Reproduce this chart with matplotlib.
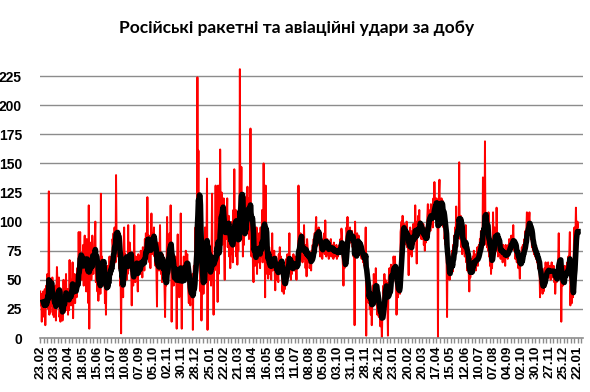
import numpy as np
import pandas as pd
import matplotlib
matplotlib.use("Agg")
import matplotlib.pyplot as plt
from matplotlib.ticker import MultipleLocator, FixedLocator

# daily strikes, starting 23.02.2023 (28 days per row pair)
strikes = [
    40, 28, 38, 14, 35, 22, 40, 30, 18, 42, 11, 33, 45, 28,
    55, 38, 25, 126, 20, 48, 22, 50, 35, 28, 52, 20, 40, 18,
    30, 22, 45, 15, 38, 61, 48, 42, 30, 52, 18, 25, 14, 30,
    20, 35, 15, 28, 50, 33, 22, 45, 38, 55, 24, 30, 42, 20,
    35, 24, 67, 30, 45, 28, 50, 40, 65, 17, 48, 38, 55, 30,
    52, 42, 35, 60, 48, 55, 91, 62, 70, 91, 58, 72, 50, 68,
    60, 80, 45, 75, 88, 55, 70, 40, 85, 62, 58, 30, 114, 8,
    75, 68, 82, 50, 60, 88, 72, 55, 70, 62, 85, 100, 48, 66,
    58, 40, 55, 32, 48, 42, 60, 38, 124, 55, 70, 48, 65, 52,
    45, 60, 30, 50, 20, 55, 42, 62, 50, 58, 48, 70, 55, 62,
    60, 70, 55, 85, 78, 90, 72, 95, 80, 65, 140, 88, 75, 92,
    70, 85, 60, 90, 45, 55, 4, 62, 48, 70, 35, 80, 95, 68,
    72, 58, 65, 50, 62, 55, 97, 60, 70, 82, 75, 58, 62, 28,
    65, 50, 45, 60, 97, 52, 48, 70, 58, 65, 55, 40, 72, 60,
    62, 70, 55, 75, 60, 68, 52, 78, 65, 70, 58, 85, 72, 90,
    75, 68, 121, 82, 70, 88, 65, 78, 60, 85, 107, 72, 90, 78,
    85, 95, 70, 80, 62, 75, 55, 27, 82, 60, 70, 58, 75, 97,
    62, 55, 68, 48, 72, 60, 50, 65, 40, 18, 55, 45, 62, 104,
    70, 58, 85, 62, 90, 75, 114, 80, 14, 65, 50, 72, 45, 60,
    55, 70, 48, 62, 8, 65, 89, 40, 58, 35, 50, 42, 107, 45,
    8, 55, 62, 48, 70, 58, 65, 52, 75, 60, 68, 72, 55, 40,
    30, 45, 35, 28, 50, 42, 38, 55, 7, 48, 62, 45, 70, 95,
    80, 65, 95, 224, 110, 161, 85, 120, 60, 40, 75, 15, 55, 48,
    62, 38, 70, 55, 95, 80, 60, 88, 137, 7, 85, 60, 72, 50,
    55, 68, 45, 72, 124, 50, 65, 20, 70, 58, 80, 131, 62, 75,
    68, 31, 131, 55, 90, 85, 162, 110, 95, 125, 80, 115, 100, 120,
    75, 50, 95, 110, 85, 100, 120, 78, 92, 105, 70, 88, 60, 95,
    80, 72, 100, 65, 110, 90, 145, 95, 85, 110, 70, 100, 63, 88,
    75, 110, 90, 231, 95, 105, 147, 85, 110, 70, 95, 80, 100, 88,
    121, 95, 115, 105, 130, 90, 120, 85, 100, 95, 180, 80, 70, 110,
    85, 60, 48, 75, 90, 62, 80, 70, 95, 55, 85, 78, 65, 90,
    72, 60, 95, 70, 80, 110, 65, 95, 150, 100, 85, 35, 131, 60,
    75, 55, 70, 51, 65, 78, 55, 62, 70, 50, 68, 90, 58, 72,
    60, 75, 55, 41, 70, 62, 50, 65, 58, 48, 72, 60, 78, 65,
    70, 55, 62, 40, 45, 52, 38, 50, 42, 60, 55, 68, 58, 72,
    65, 55, 70, 90, 58, 62, 50, 68, 55, 65, 60, 72, 58, 62,
    58, 70, 62, 50, 68, 72, 60, 131, 85, 70, 78, 90, 75, 82,
    70, 65, 80, 72, 97, 68, 75, 60, 80, 53, 85, 78, 70, 65,
    72, 60, 65, 70, 58, 75, 68, 80, 72, 85, 78, 90, 82, 95,
    104, 85, 92, 80, 88, 95, 82, 78, 70, 85, 72, 80, 68, 78,
    85, 75, 90, 72, 101, 80, 70, 78, 85, 72, 80, 68, 82, 75,
    78, 85, 70, 80, 72, 76, 68, 82, 75, 70, 78, 72, 80, 68,
    75, 70, 78, 72, 80, 75, 85, 78, 94, 88, 70, 62, 45, 68,
    60, 72, 65, 80, 95, 90, 104, 85, 92, 80, 88, 95, 82, 90,
    85, 92, 78, 88, 70, 82, 11, 100, 75, 85, 70, 90, 78, 85,
    88, 80, 75, 72, 80, 70, 68, 75, 72, 65, 70, 62, 72, 60,
    95, 2, 50, 40, 35, 48, 30, 42, 25, 35, 20, 38, 11, 30,
    45, 28, 55, 40, 50, 35, 60, 42, 30, 20, 35, 25, 18, 30,
    22, 10, 25, 15, 0, 20, 30, 45, 38, 55, 42, 50, 35, 48,
    40, 30, 2, 45, 55, 60, 40, 50, 63, 58, 45, 62, 55, 70,
    65, 58, 70, 50, 45, 20, 40, 55, 35, 50, 45, 40, 38, 91,
    95, 100, 88, 105, 92, 85, 98, 80, 90, 95, 85, 100, 78, 90,
    75, 54, 85, 72, 95, 80, 88, 70, 92, 85, 98, 80, 90, 85,
    114, 95, 85, 64, 100, 92, 105, 95, 110, 88, 100, 92, 85, 95,
    90, 85, 98, 80, 92, 75, 88, 82, 95, 88, 105, 115, 95, 110,
    100, 108, 92, 115, 98, 105, 110, 95, 120, 105, 134, 110, 118, 105,
    120, 108, 115, 0, 110, 125, 136, 100, 115, 105, 120, 110, 118, 100,
    95, 110, 85, 92, 80, 95, 70, 18, 75, 60, 55, 68, 50, 62,
    58, 70, 62, 75, 57, 80, 72, 88, 78, 95, 85, 113, 80, 90,
    100, 88, 95, 151, 92, 85, 105, 78, 85, 72, 88, 80, 75, 85,
    70, 80, 97, 65, 72, 58, 70, 62, 55, 40, 60, 52, 68, 58,
    65, 55, 70, 62, 75, 60, 68, 72, 58, 70, 65, 78, 62, 75,
    80, 70, 85, 75, 92, 80, 88, 78, 138, 85, 95, 80, 169, 90,
    85, 92, 78, 88, 75, 108, 70, 80, 62, 72, 55, 68, 60, 75,
    108, 85, 78, 95, 80, 90, 75, 112, 88, 80, 70, 85, 72, 78,
    75, 68, 82, 70, 78, 65, 80, 72, 68, 75, 62, 80, 70, 72,
    75, 68, 80, 72, 85, 78, 82, 75, 88, 80, 78, 85, 97, 80,
    75, 82, 68, 78, 72, 65, 80, 70, 60, 68, 62, 51, 70, 65,
    72, 78, 65, 80, 75, 70, 85, 78, 92, 85, 95, 108, 88, 98,
    90, 102, 108, 95, 92, 85, 88, 78, 82, 75, 80, 72, 78, 70,
    75, 68, 72, 65, 70, 60, 68, 62, 58, 35, 55, 48, 42, 50,
    38, 45, 40, 52, 60, 48, 65, 55, 62, 50, 58, 65, 52, 60,
    55, 62, 50, 58, 65, 52, 60, 55, 62, 48, 58, 38, 50, 55,
    48, 58, 62, 70, 90, 65, 68, 55, 60, 14, 50, 62, 45, 55,
    58, 50, 62, 55, 48, 60, 55, 65, 58, 70, 62, 75, 91, 28,
    45, 38, 30, 42, 35, 55, 80, 95, 70, 88, 112, 90, 85, 100,
    95,
]
start_date = "2023-02-23"
title = "Російські ракетні та авіаційні удари за добу"

dates = pd.date_range(start_date, periods=len(strikes), freq="D")
s = pd.Series(strikes, index=np.arange(len(strikes)))
avg = s.rolling(7).mean()

fig = plt.figure(figsize=(5.9, 3.92), dpi=100)
ax = fig.add_axes([40 / 590, 54 / 392, 543 / 590, 270 / 392])

for v in range(25, 226, 25):
    ax.axhline(v, color="#8c8c8c", lw=1.0, zorder=0)

ax.plot(s.index, s.values, color="#ff0000", lw=1.4, zorder=2)
ax.plot(avg.index, avg.values, color="black", lw=4.0, zorder=3)

ax.set_xlim(-0.5, 1074)
ax.set_ylim(0, 232)

for sp in ["top", "right", "left"]:
    ax.spines[sp].set_visible(False)
ax.spines["bottom"].set_color("#8c8c8c")
ax.spines["bottom"].set_linewidth(1.2)

ax.yaxis.set_major_locator(FixedLocator(range(0, 226, 25)))
ax.tick_params(axis="y", length=0, pad=13)
for lab in ax.get_yticklabels():
    lab.set_fontfamily("Liberation Sans")
    lab.set_fontweight("bold")
    lab.set_fontsize(10)

pos = list(range(0, len(strikes), 28))
ax.set_xticks(pos)
ax.set_xticklabels([dates[p].strftime("%d.%m") for p in pos], rotation=90,
                   fontfamily="Liberation Sans", fontweight="bold", fontsize=9.5)
ax.xaxis.set_minor_locator(MultipleLocator(7))
ax.tick_params(axis="x", which="both", length=3.5, width=1.0, color="#8c8c8c", pad=2)

fig.text(0.502, 0.928, title, ha="center", va="center",
         fontfamily="Lato", fontweight="bold", fontsize=12.5)

fig.savefig("out.png", dpi=100)
